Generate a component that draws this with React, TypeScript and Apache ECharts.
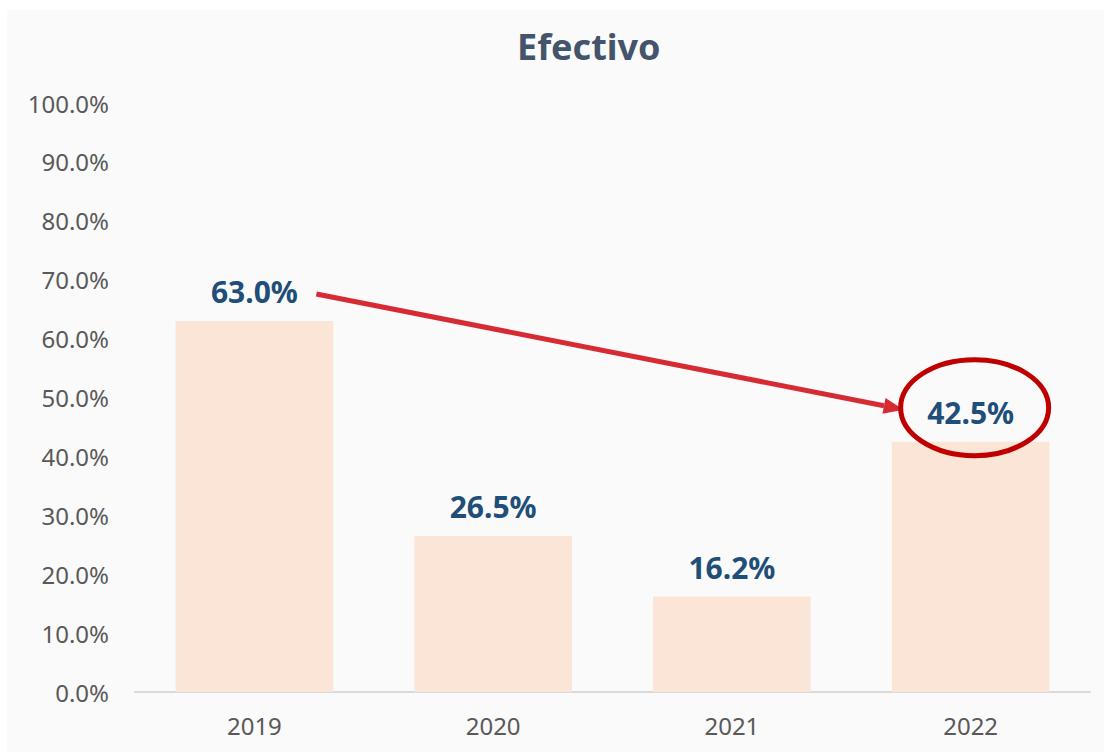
import React, { useEffect, useRef } from "react";
import * as echarts from "echarts";

const categories = ["2019", "2020", "2021", "2022"];
const values = [63.0, 26.5, 16.2, 42.5];
const titleText = "Efectivo";

export default function App() {
  const ref = useRef<HTMLDivElement>(null);
  useEffect(() => {
    if (!ref.current) return;
    const chart = echarts.init(ref.current, undefined, { renderer: "svg" });
    chart.setOption({
      animation: false,
      backgroundColor: "#fafafa",
      title: {
        text: titleText,
        left: 505,
        top: 13,
        textStyle: { fontFamily: "Noto Sans", fontWeight: "bold", fontSize: 36, color: "#44546a" },
      },
      grid: { left: 128, right: 14, top: 93, bottom: 60 },
      xAxis: {
        type: "category",
        data: categories,
        axisLine: { lineStyle: { color: "#d9d9d9", width: 2 } },
        axisTick: { show: false },
        axisLabel: { fontFamily: "Noto Sans", fontSize: 24, color: "#595959", margin: 21 },
      },
      yAxis: {
        type: "value",
        min: 0,
        max: 100,
        interval: 10,
        splitLine: { show: false },
        axisLine: { show: false },
        axisTick: { show: false },
        axisLabel: {
          fontFamily: "Noto Sans",
          fontSize: 24,
          color: "#595959",
          margin: 26,
          formatter: (v: number) => v.toFixed(1) + "%",
        },
      },
      series: [
        {
          type: "bar",
          data: values,
          barWidth: "66%",
          itemStyle: { color: "#fbe5d6" },
          label: {
            show: true,
            position: "top",
            distance: 14,
            fontFamily: "Noto Sans",
            fontWeight: "bold",
            fontSize: 30,
            color: "#1f4e79",
            formatter: (p: any) => p.value.toFixed(1) + "%",
          },
        },
      ],
    });

    const p0 = chart.convertToPixel({ seriesIndex: 0 }, [categories[0], values[0]]) as number[];
    const p3 = chart.convertToPixel({ seriesIndex: 0 }, [categories[3], values[3]]) as number[];
    const sx = p0[0] + 62, sy = p0[1] - 27;
    const ex = p3[0] - 67, ey = p3[1] - 32;
    const ang = Math.atan2(ey - sy, ex - sx);
    const L = 20, W = 8;
    const bx = ex - L * Math.cos(ang), by = ey - L * Math.sin(ang);
    const nx = -Math.sin(ang), ny = Math.cos(ang);
    chart.setOption({
      graphic: [
        {
          type: "line",
          shape: { x1: sx, y1: sy, x2: bx, y2: by },
          style: { stroke: "#d62b33", lineWidth: 5 },
          z: 100,
        },
        {
          type: "polygon",
          shape: { points: [[ex, ey], [bx + nx * W, by + ny * W], [bx - nx * W, by - ny * W]] },
          style: { fill: "#d62b33" },
          z: 100,
        },
        {
          type: "ellipse",
          shape: { cx: p3[0] + 4, cy: p3[1] - 34, rx: 74, ry: 48 },
          style: { stroke: "#c00000", lineWidth: 5, fill: "none" },
          z: 100,
        },
      ],
    });
    return () => chart.dispose();
  }, []);
  return (
    <div
      ref={ref}
      style={{ position: "absolute", left: 7, top: 10, width: 1097, height: 742 }}
    />
  );
}
